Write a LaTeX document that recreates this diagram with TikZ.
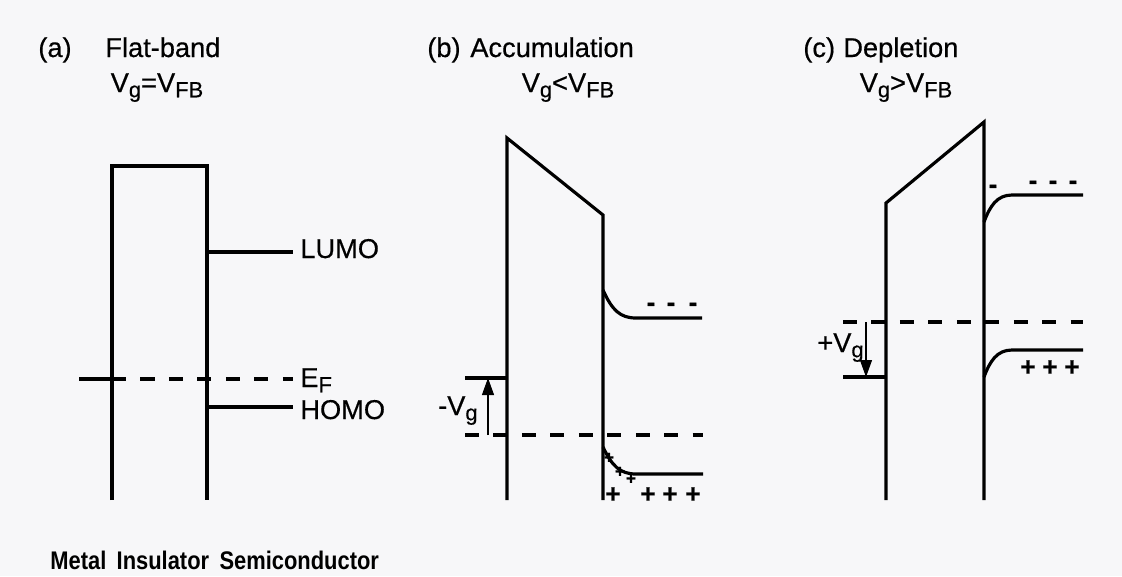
\documentclass[tikz,border=0pt]{standalone}
\usepackage{fontspec}
\setmainfont{Liberation Sans}[FakeBold=0.5]
\newfontfamily\narrowfont[FakeStretch=0.86]{Liberation Sans}
\usetikzlibrary{arrows.meta}
\definecolor{paper}{RGB}{247,247,249}
\newcommand\low[1]{\raisebox{-3pt}{\fontsize{12.5}{12}\selectfont #1}}
\tikzset{
	band/.style  ={line width=1.8pt},
	fermi/.style ={line width=1.9pt, dash pattern=on 8pt off 8.2pt},
	lbl/.style   ={font=\fontsize{15.5}{18}\selectfont, inner sep=0pt},
	chg/.style   ={font=\fontsize{15}{18}\selectfont\bfseries, inner sep=0pt},
	chgs/.style  ={font=\fontsize{10}{12}\selectfont\bfseries, inner sep=0pt},
	bias/.style  ={-{Triangle[length=3.4mm, width=2.4mm]}, line width=0.6pt},
}
\begin{document}
\begin{tikzpicture}[x=0.02cm, y=-0.02cm]
	\fill[paper] (0,0) rectangle (1122,576);
	\useasboundingbox (0,0) rectangle (1122,576);
	% (a) flat band
	\node[lbl, anchor=base west] (a-tag) at (38,57) {(a)};
	\node[lbl, anchor=base west] (a-name) at (105,57) {Flat-band};
	\node[lbl, anchor=base] (a-cond) at (157,92) {V\low{g}=V\low{FB}};
	\draw[band] (112,500) -- (112,166) -- (207,166) -- (207,500);
	\draw[band] (207,252) -- (293,252);
	\draw[band] (207,407) -- (293,407);
	\draw[band] (79,379) -- (112,379);
	\draw[fermi] (112,379) -- (293,379);
	\node[lbl, anchor=base west] (lumo) at (300,258) {LUMO};
	\node[lbl, anchor=base west] (ef) at (300,387) {E\low{F}};
	\node[lbl, anchor=base west] (homo) at (300,419) {HOMO};
	\node[anchor=base west, inner sep=0pt, font=\narrowfont\bfseries\fontsize{14.5}{16}\selectfont] (layers) at (50,569) {Metal\, Insulator\, Semiconductor};
	% (b) accumulation
	\node[lbl, anchor=base west] (b-tag) at (427,57) {(b)};
	\node[lbl, anchor=base west] (b-name) at (470,57) {Accumulation};
	\node[lbl, anchor=base] (b-cond) at (568,92) {V\low{g}<V\low{FB}};
	\draw[band] (507,500) -- (507,138) -- (603,215) -- (603,500);
	\draw[band] (603,290) .. controls (612,310) and (620,318) .. (636,318) -- (702,318);
	\draw[band] (603,447) .. controls (612,466) and (620,474) .. (636,474) -- (703,474);
	\draw[band] (465,378) -- (507,378);
	\draw[fermi] (465,435) -- (703,435);
	\coordinate (b-lo) at (488,435);
	\coordinate (b-hi) at (488,378);
	\draw[bias] (b-lo) -- (b-hi);
	\node[lbl, anchor=base east] (b-bias) at (478,415) {-V\low{g}};
	\foreach \x [count=\i] in {651,671,693}
		\node[chg] (b-e\i) at (\x,307) {-};
	\foreach \x/\y [count=\i] in {609/458,620/472,631/479}
		\node[chgs] (b-hs\i) at (\x,\y) {+};
	\foreach \x [count=\i] in {613,648,670,693}
		\node[chg] (b-h\i) at (\x,495) {+};
	% (c) depletion
	\node[lbl, anchor=base west] (c-tag) at (803,57) {(c)};
	\node[lbl, anchor=base west] (c-name) at (843,57) {Depletion};
	\node[lbl, anchor=base] (c-cond) at (906,92) {V\low{g}>V\low{FB}};
	\draw[band] (886,500) -- (886,203) -- (984,122) -- (984,500);
	\draw[band] (984,222) .. controls (990,206) and (997,195) .. (1012,195) -- (1083,195);
	\draw[band] (984,377) .. controls (990,361) and (997,350) .. (1012,350) -- (1083,350);
	\draw[band] (843,377) -- (886,377);
	\draw[fermi] (843,322) -- (1083,322);
	\coordinate (c-hi) at (866,322);
	\coordinate (c-lo) at (866,377);
	\draw[bias] (c-hi) -- (c-lo);
	\node[lbl, anchor=base east] (c-bias) at (864,352) {+V\low{g}};
	\foreach \x/\y [count=\i] in {993/189,1033/185,1053/185,1073/185}
		\node[chg] (c-e\i) at (\x,\y) {-};
	\foreach \x [count=\i] in {1028,1050,1072}
		\node[chg] (c-h\i) at (\x,368) {+};
\end{tikzpicture}
\end{document}
